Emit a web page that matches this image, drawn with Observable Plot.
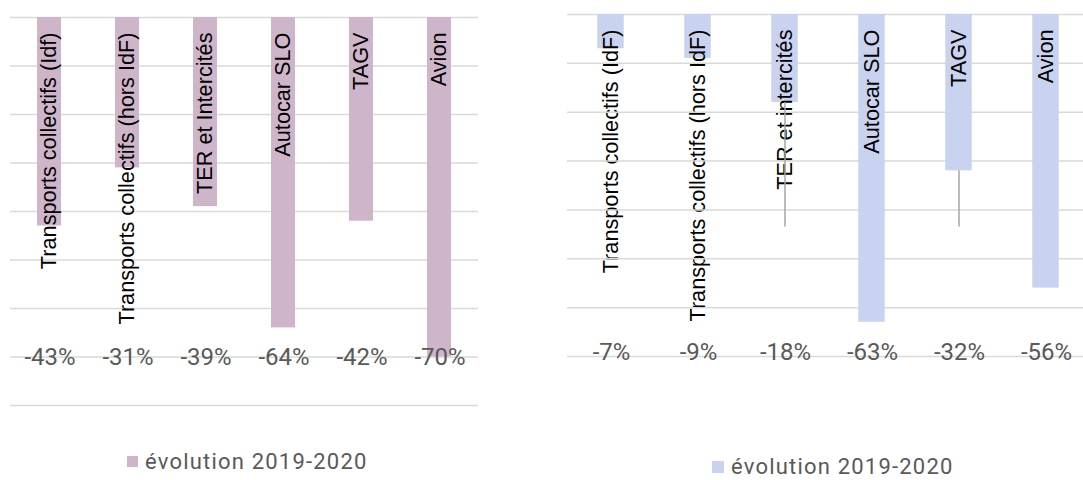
<!DOCTYPE html>
<html>
<head>
<meta charset="utf-8">
<script src="https://cdn.jsdelivr.net/npm/d3@7"></script>
<script src="https://cdn.jsdelivr.net/npm/@observablehq/plot@0.6"></script>
<style>
  html, body { margin: 0; padding: 0; background: #fff; }
  #wrap { position: relative; width: 1083px; height: 480px; overflow: hidden; background: #fff; }
  .panel { position: absolute; top: 0; }
  .legend { position: absolute; display: flex; align-items: center; font-family: Roboto, sans-serif; font-size: 22px; color: #595959; letter-spacing: 1.2px; white-space: nowrap; }
  .legend .sw { display: inline-block; margin-right: 7px; }
</style>
</head>
<body>
<div id="wrap">
  <div id="left" class="panel" style="left:0px"></div>
  <div id="right" class="panel" style="left:555px"></div>
  <div class="legend" id="legL" style="left:127px; top:449px;"><span class="sw" style="width:11px;height:11px;background:#CFB5CA"></span><span class="tx"></span></div>
  <div class="legend" id="legR" style="left:712px; top:454px;"><span class="sw" style="width:12px;height:12px;background:#C9D2EE"></span><span class="tx"></span></div>
</div>
<script>
// ---- data ----
const categoriesLeft = ["Transports collectifs (Idf)", "Transports collectifs (hors IdF)", "TER et Intercités", "Autocar SLO", "TAGV", "Avion"];
const valuesLeft = [-43, -31, -39, -64, -42, -70];
const categoriesRight = ["Transports collectifs (IdF)", "Transports collectifs (hors IdF)", "TER et intercités", "Autocar SLO", "TAGV", "Avion"];
const valuesRight = [-7, -9, -18, -63, -32, -56];
const errorLowRight = [null, null, -43.5, null, -43.5, null];
const gridLeft = [0, -10, -20, -30, -40, -50, -60, -70, -80];
const gridRight = [0, -10, -20, -30, -40, -50, -60, -70];
const legendLabel = "évolution 2019-2020";

const colorLeft = "#CFB5CA";
const colorRight = "#C9D2EE";

const leftData = categoriesLeft.map((c, i) => ({cat: c, value: valuesLeft[i]}));
const rightData = categoriesRight.map((c, i) => ({cat: c, value: valuesRight[i], low: errorLowRight[i]}));

const gridStyle = {stroke: "#D9D9D9", strokeWidth: 1.5};

function panel({data, cats, grid, color, width, height, mt, mb, ml, mr, xRange, yDomain, inset, labelY, errors, gridOverText}) {
  const marks = [];
  if (gridOverText) {
    // grid drawn band by band: pieces crossing a bar go under it, pieces below a bar go over the labels
    const under = data.flatMap(d => grid.filter(g => g >= d.value).map(g => ({cat: d.cat, g})));
    marks.push(Plot.tickY(under, {x: "cat", y: "g", ...gridStyle}));
  } else {
    marks.push(Plot.ruleY(grid, gridStyle));
  }
  marks.push(
    Plot.barY(data, {x: "cat", y: "value", fill: color, insetLeft: inset, insetRight: inset}),
    Plot.text(data, {x: "cat", text: "cat", frameAnchor: "top", dy: 15, rotate: -90, textAnchor: "end", lineAnchor: "middle",
      fill: "#000", fontSize: 21.7, fontFamily: "Liberation Sans, Arial, sans-serif", ariaLabel: "cats"})
  );
  if (gridOverText) {
    const over = data.flatMap(d => grid.filter(g => g < d.value).map(g => ({cat: d.cat, g})));
    marks.push(Plot.tickY(over, {x: "cat", y: "g", ...gridStyle}));
  }
  if (errors) {
    marks.push(Plot.ruleX(data.filter(d => d.low != null), {x: "cat", y1: "value", y2: "low", stroke: "#A6A6A6", strokeWidth: 1.5}));
  }
  marks.push(
    Plot.text(data, {x: "cat", y: () => labelY, text: d => `${d.value}%`, lineAnchor: "middle", dx: 0.5,
      fill: "#595959", fontSize: 24, fontFamily: "Roboto, sans-serif", ariaLabel: "values"})
  );
  const svg = Plot.plot({
    width, height,
    marginTop: mt, marginBottom: mb, marginLeft: ml, marginRight: mr,
    x: {type: "band", domain: cats, range: xRange, padding: 0, axis: null},
    y: {domain: yDomain, axis: null},
    style: {background: "transparent", overflow: "visible"},
    marks
  });
  d3.select(svg).selectAll('g[aria-label="values"] text').style("letter-spacing", "0.8px");
  return svg;
}

document.getElementById("left").appendChild(panel({
  data: leftData, cats: categoriesLeft, grid: gridLeft, color: colorLeft,
  width: 480, height: 410, mt: 17, mb: 5, ml: 10, mr: 2, xRange: [10, 478], yDomain: [-80, 0],
  inset: 27, labelY: -70, errors: false, gridOverText: false
}));
document.getElementById("right").appendChild(panel({
  data: rightData, cats: categoriesRight, grid: gridRight, color: colorRight,
  width: 528, height: 360, mt: 14, mb: 4, ml: 10, mr: 0, xRange: [10, 536], yDomain: [-70, 0],
  inset: 30.3, labelY: -69.2, errors: true, gridOverText: true
}));
document.querySelector("#legL .tx").textContent = legendLabel;
document.querySelector("#legR .tx").textContent = legendLabel;
</script>
</body>
</html>
